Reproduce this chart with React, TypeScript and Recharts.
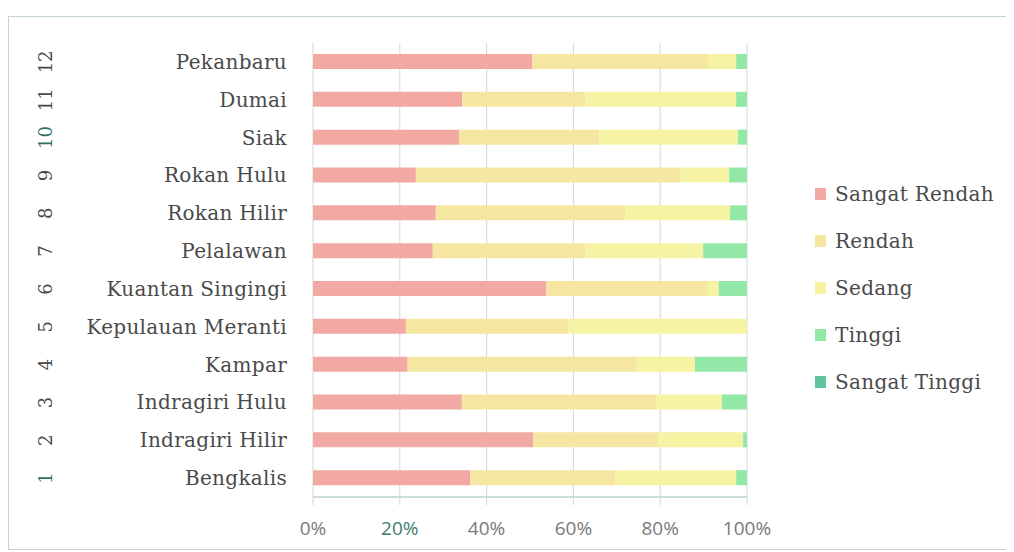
import { BarChart, Bar, XAxis, YAxis, CartesianGrid, Legend } from "recharts";

// regions, bottom (1) to top (12)
const regions = [
  "Bengkalis",
  "Indragiri Hilir",
  "Indragiri  Hulu",
  "Kampar",
  "Kepulauan Meranti",
  "Kuantan Singingi",
  "Pelalawan",
  "Rokan Hilir",
  "Rokan Hulu",
  "Siak",
  "Dumai",
  "Pekanbaru"
];
const regionNumbers = ["1", "2", "3", "4", "5", "6", "7", "8", "9", "10", "11", "12"];

// percentages per category
const sangatRendah = [36.2, 50.8, 34.3, 21.8, 21.4, 53.8, 27.6, 28.3, 23.7, 33.7, 34.4, 50.5];
const rendah = [33.4, 28.7, 44.9, 52.8, 37.4, 37.2, 35.1, 43.7, 60.9, 32.3, 28.3, 40.5];
const sedang = [27.9, 19.6, 15.0, 13.4, 41.2, 2.5, 27.2, 24.1, 11.3, 31.9, 34.8, 6.5];
const tinggi = [2.5, 0.9, 5.8, 12.0, 0, 6.5, 10.1, 3.9, 4.1, 2.1, 2.5, 2.5];
const sangatTinggi = [0, 0, 0, 0, 0, 0, 0, 0, 0, 0, 0, 0];

const xTicks = [0, 20, 40, 60, 80, 100];

const series = [
  { key: "sr", name: "Sangat Rendah", color: "#f2a9a3" },
  { key: "r", name: "Rendah", color: "#f5e7a2" },
  { key: "s", name: "Sedang", color: "#f7f3a4" },
  { key: "t", name: "Tinggi", color: "#92e8a6" },
  { key: "st", name: "Sangat Tinggi", color: "#62c49d" }
];

const data = regions.map((name, i) => ({
  name,
  sr: sangatRendah[i],
  r: rendah[i],
  s: sedang[i],
  t: tinggi[i],
  st: sangatTinggi[i]
}));

const serif = "'DejaVu Serif', serif";

function CategoryTick(props: any) {
  const { y, payload } = props;
  const num = regionNumbers[regions.indexOf(payload.value)];
  return (
    <g>
      <text x={278} y={y} dy={7} textAnchor="end" fill="#4a4a4a" fontSize={20} fontFamily={serif} letterSpacing={0.3}>
        {payload.value}
      </text>
      <text
        transform={`translate(36, ${y}) rotate(-90)`}
        textAnchor="middle"
        dy={7}
        fill={num === "1" || num === "10" ? "#2f6f66" : "#4a4a4a"}
        fontSize={18}
        fontFamily={serif}
      >
        {num}
      </text>
    </g>
  );
}

function PercentTick(props: any) {
  const { x, payload } = props;
  return (
    <text x={x} y={518} textAnchor="middle" fill={payload.value === 20 ? "#3d7d70" : "#7a7a7a"} fontSize={19} fontFamily="'Open Sans', sans-serif">
      {payload.value}%
    </text>
  );
}

function LegendBox() {
  return (
    <div style={{ fontFamily: serif }}>
      {series.map((s) => (
        <div key={s.key} style={{ display: "flex", alignItems: "center", height: 47 }}>
          <span style={{ width: 11, height: 12, background: s.color, marginRight: 9, display: "inline-block" }} />
          <span style={{ fontSize: 20, color: "#4a4a4a", letterSpacing: 0.3 }}>{s.name}</span>
        </div>
      ))}
    </div>
  );
}

export default function App() {
  return (
    <div
      style={{
        marginTop: 8,
        width: 1010,
        height: 532,
        border: "1px solid #c3d5d0",
        background: "#fff"
      }}
    >
      <BarChart
        width={1008}
        height={532}
        data={data}
        layout="vertical"
        barSize={15}
        margin={{ top: 26, right: 70, left: 0, bottom: 12 }}
      >
        <CartesianGrid horizontal={false} stroke="#d6d6d6" />
        <XAxis
          type="number"
          domain={[0, 100]}
          ticks={xTicks}
          height={40}
          axisLine={{ stroke: "#bcd2cb", strokeWidth: 1.5 }}
          tickLine={{ stroke: "#d6d6d6" }}
          tickSize={8}
          tick={<PercentTick />}
        />
        <YAxis
          type="category"
          dataKey="name"
          reversed
          width={304}
          axisLine={false}
          tickLine={false}
          interval={0}
          tick={<CategoryTick />}
        />
        <Legend
          layout="vertical"
          verticalAlign="top"
          align="right"
          wrapperStyle={{ left: 806, top: 153, width: 200 }}
          content={() => <LegendBox />}
        />
        {series.map((s) => (
          <Bar key={s.key} dataKey={s.key} name={s.name} stackId="a" fill={s.color} isAnimationActive={false} />
        ))}
      </BarChart>
    </div>
  );
}
